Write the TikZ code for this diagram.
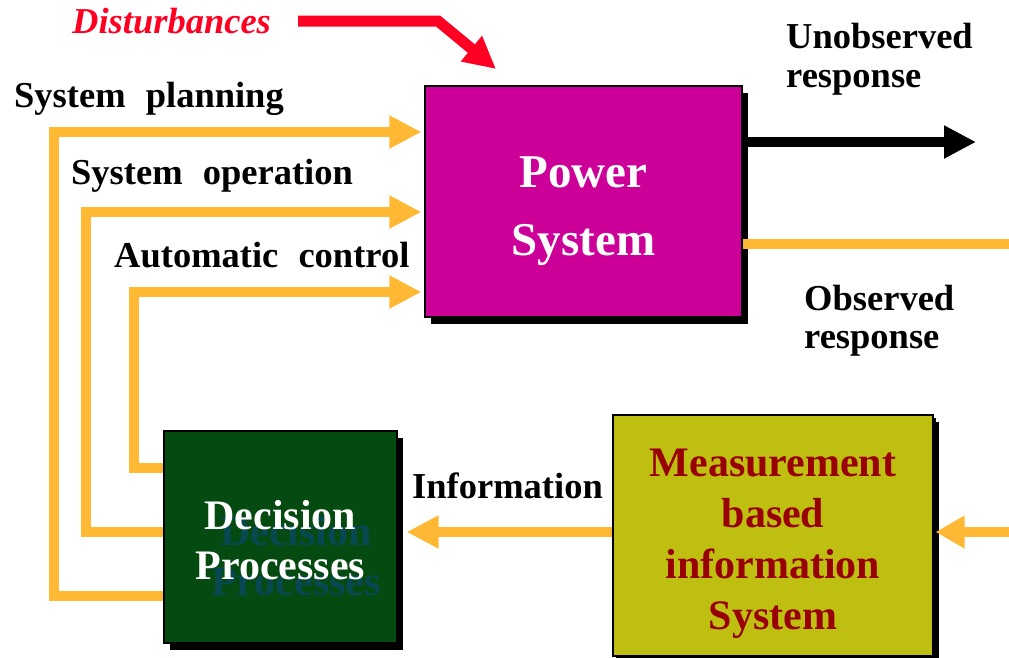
\documentclass[tikz,border=0pt]{standalone}
\usepackage{fontspec}
\setmainfont{Liberation Serif}
\usetikzlibrary{arrows.meta,calc,shadows}
\definecolor{orng}{RGB}{255,184,51}
\definecolor{pmag}{RGB}{204,0,153}
\definecolor{dgreen}{RGB}{5,74,16}
\definecolor{olive}{RGB}{191,191,18}
\definecolor{dred}{RGB}{153,0,0}
\definecolor{dist}{RGB}{255,0,34}
\definecolor{ghost}{RGB}{8,72,82}
\begin{document}
\begin{tikzpicture}[x=1pt,y=-1pt,
  lbl/.style={anchor=base west, inner sep=0pt, font=\fontsize{36.5}{40}\selectfont\bfseries},
  box/.style={draw=black, line width=1.2pt, inner sep=0pt,
    drop shadow={shadow xshift=6pt, shadow yshift=-7pt, opacity=1, fill=black}},
  boxtext/.style={inner sep=0pt, align=center},
  fb/.style={draw=orng, line width=10pt, line join=miter,
    -{Triangle[length=32pt,width=31pt,fill=orng]}},
  blk/.style={draw=black, line width=10pt,
    -{Triangle[length=32pt,width=31pt,fill=black]}},
  red/.style={draw=dist, line width=11pt, line join=miter,
    -{Triangle[length=32pt,width=31pt,fill=dist]}}
]
\useasboundingbox (0,0) rectangle (1009,657);

% boxes
\node[box, fill=pmag, minimum width=317pt, minimum height=231pt] (power) at (583.5,201.5) {};
\node[box, fill=dgreen, minimum width=233pt, minimum height=212pt] (dec) at (280.5,537) {};
\node[box, fill=olive, minimum width=320pt, minimum height=241pt,
  drop shadow={shadow xshift=3pt, shadow yshift=-3pt, opacity=1, fill=black}] (meas) at (773,535.5) {};

% box texts
\node[boxtext, text=white, font=\fontsize{47}{68}\selectfont\bfseries] (powtxt) at (583.5,211) {Power\\System};
\node[boxtext, text=ghost, font=\fontsize{42}{50}\selectfont\bfseries] (decghost) at (296,556.5) {Decision\\Processes};
\node[boxtext, text=white, font=\fontsize{42}{50}\selectfont\bfseries] (dectxt) at (280.5,540.5) {Decision\\Processes};
\node[boxtext, text=dred, font=\fontsize{42}{51}\selectfont\bfseries] (meastxt) at (773,544) {Measurement\\based\\information\\System};

% coordinates for free ends
\coordinate (distA) at (298,21);
\coordinate (distB) at (438,21);
\coordinate (distC) at (496,69);
\coordinate (unobsEnd) at (976,142);
\coordinate (obsCornerA) at (1014.5,244);
\coordinate (obsCornerB) at (1014.5,532);

% disturbance arrow
\draw[red] (distA) -- (distB) -- (distC);

% feedback paths from decision to power system
\draw[fb] (dec.west |- 0,596) -| (54,132) -- ($(power.west |- 0,132)+(-3,0)$);
\draw[fb] (dec.west |- 0,532) -| (86,212) -- ($(power.west |- 0,212)+(-3,0)$);
\draw[fb] (dec.west |- 0,468) -| (134,292) -- ($(power.west |- 0,292)+(-3,0)$);

% unobserved response
\draw[blk] (power.east |- 0,142) -- (unobsEnd);

% observed response
\draw[draw=orng, line width=10pt, line join=miter,
  -{Triangle[length=29pt,width=31pt,fill=orng]}]
  (power.east |- 0,244) -- (obsCornerA) -- (obsCornerB) -- ($(meas.east |- 0,532)+(2,0)$);

% information arrow
\draw[fb] (meas.west |- 0,532) -- ($(dec.east |- 0,532)+(9,0)$);

% labels
\node[lbl, font=\fontsize{36.5}{40}\selectfont\bfseries\itshape, text=dist] (ldist) at (72,33) {Disturbances};
\node[lbl] (lplan) at (14,107) {System\hspace{11pt} planning};
\node[lbl] (loper) at (71,184) {System\hspace{11pt} operation};
\node[lbl] (lauto) at (114,267) {Automatic\hspace{11pt} control};
\node[lbl] (lunobs1) at (786,48) {Unobserved};
\node[lbl] (lunobs2) at (786,87) {response};
\node[lbl] (lobs1) at (804,310) {Observed};
\node[lbl] (lobs2) at (804,348) {response};
\node[lbl] (linfo) at (412,498) {Information};
\end{tikzpicture}
\end{document}
